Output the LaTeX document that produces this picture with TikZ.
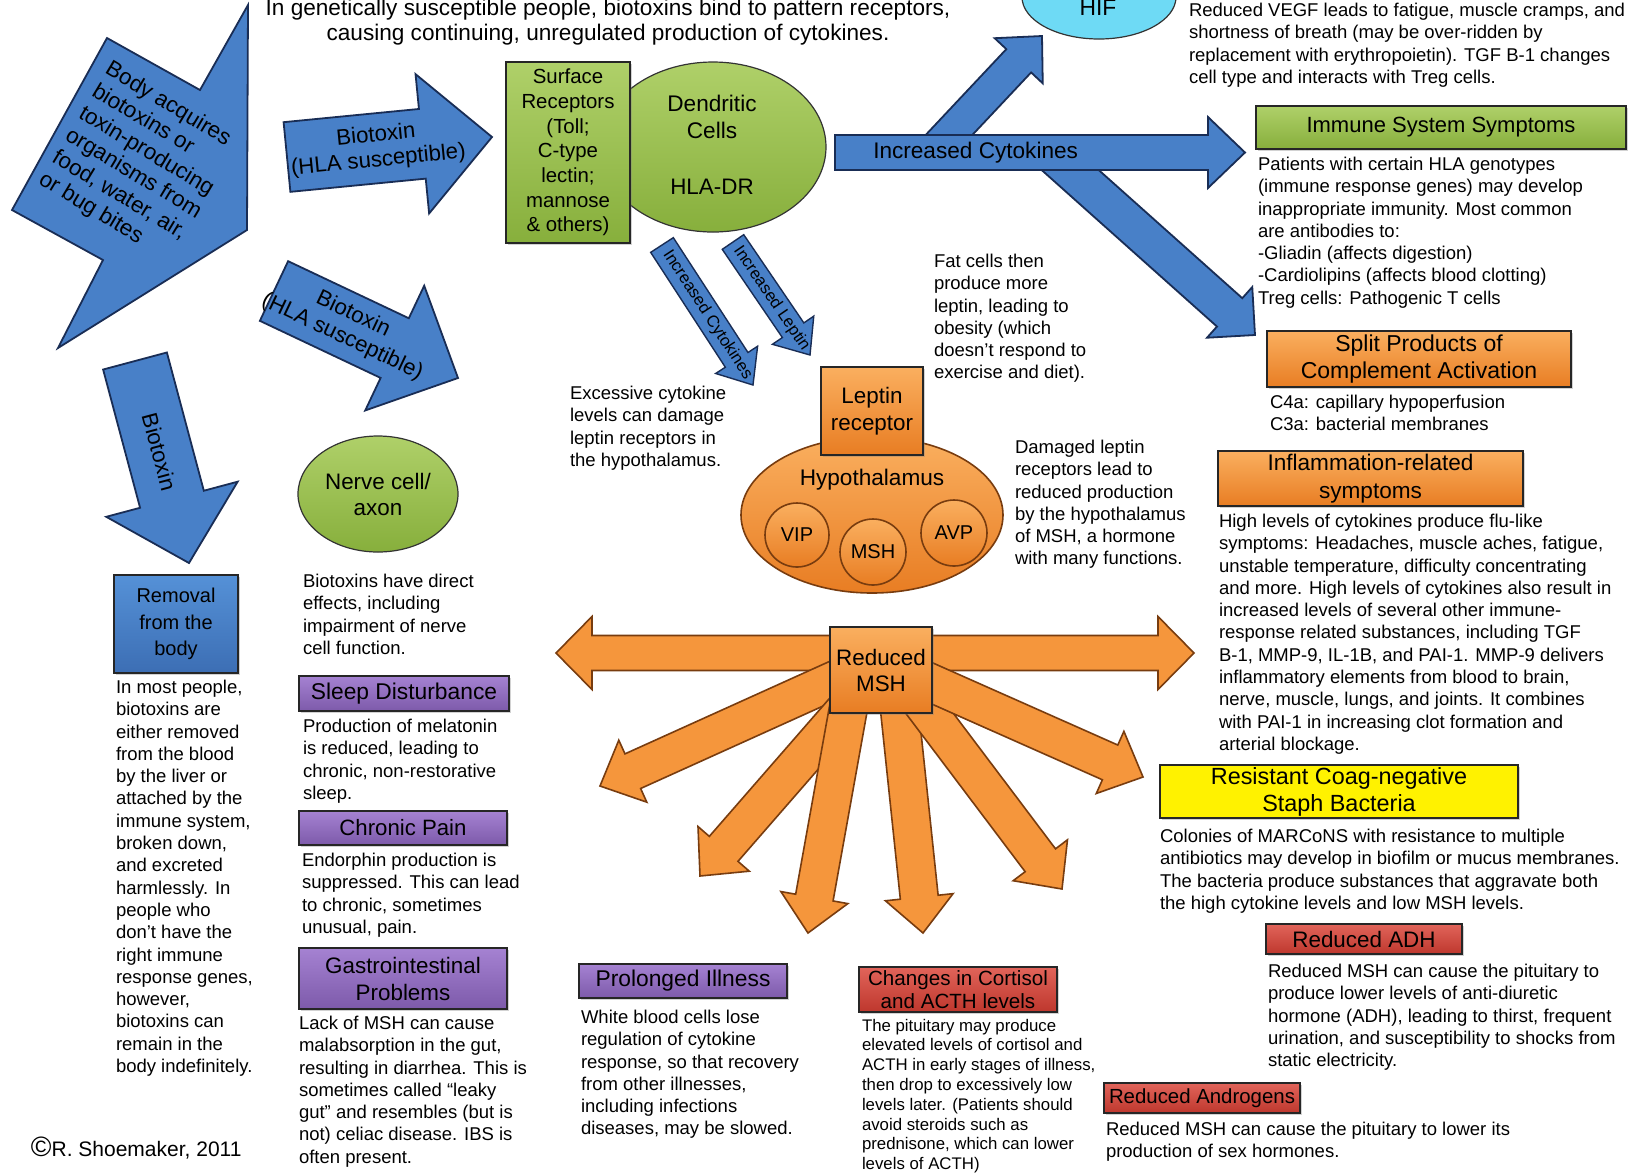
\documentclass[tikz,border=0pt]{standalone}
\usepackage{fontspec}
\setmainfont{Liberation Sans}
\usetikzlibrary{calc,shapes.geometric,shadows}

\definecolor{blueA}{RGB}{72,128,200}
\definecolor{navy}{RGB}{25,45,85}
\definecolor{orangeA}{RGB}{245,150,60}
\definecolor{orangeT}{RGB}{250,175,95}
\definecolor{orangeB}{RGB}{232,125,35}
\definecolor{obrown}{RGB}{120,60,15}
\definecolor{greenT}{RGB}{175,208,105}
\definecolor{greenB}{RGB}{135,175,60}
\definecolor{purpleT}{RGB}{165,130,210}
\definecolor{purpleB}{RGB}{125,90,170}
\definecolor{redT}{RGB}{225,100,90}
\definecolor{redB}{RGB}{190,55,45}
\definecolor{cyanA}{RGB}{110,218,245}
\definecolor{blueT}{RGB}{85,145,215}
\definecolor{blueB}{RGB}{60,110,180}

\newcommand{\bodyfnt}{\fontsize{9.25}{11.15}\selectfont}

% #1 name, #2 style, #3 tail, #4 tip, #5 half shaft, #6 half head, #7 head length
\newcommand{\blockarrow}[7]{%
  \coordinate (#1-t) at #3;
  \coordinate (#1-h) at #4;
  \coordinate (#1-b) at ($(#1-h)!#7!(#1-t)$);
  \draw[#2] ($(#1-t)!#5!90:(#1-h)$) -- ($(#1-b)!#5!90:(#1-h)$) -- ($(#1-b)!#6!90:(#1-h)$) -- (#1-h) -- ($(#1-b)!#6!-90:(#1-h)$) -- ($(#1-b)!#5!-90:(#1-h)$) -- ($(#1-t)!#5!-90:(#1-h)$) -- cycle;}

% #1 name, #2 style, #3 x1, #4 y1, #5 x2, #6 y2, #7 text
\newcommand{\boxnode}[7]{%
  \node[#2, minimum width={(#5-#3)*0.5pt}, minimum height={(#6-#4)*0.5pt}] (#1) at ({(#3+#5)/2},{(#4+#6)/2}) {#7};}

\begin{document}
\begin{tikzpicture}[x=0.5pt,y=-0.5pt,
  every node/.style={inner sep=0pt, outer sep=0pt},
  bluearrow/.style={draw=navy, line width=0.9pt, fill=blueA, line join=miter},
  orangearrow/.style={draw=obrown, line width=0.8pt, fill=orangeA, line join=miter},
  arrowtext/.style={font=\fontsize{11.1}{12.5}\selectfont, align=center, text=black},
  smallarrowtext/.style={font=\fontsize{8.3}{9}\selectfont, text=black},
  body/.style={font=\bodyfnt, align=left, anchor=north west},
  tbox/.style={draw=black!85, line width=0.6pt, align=center, drop shadow={opacity=0.35, shadow xshift=1pt, shadow yshift=-1.2pt}},
  greenbox/.style={tbox, top color=greenT, bottom color=greenB},
  orangebox/.style={tbox, top color=orangeT, bottom color=orangeB},
  purplebox/.style={tbox, top color=purpleT, bottom color=purpleB},
  redbox/.style={tbox, top color=redT, bottom color=redB},
  yellowbox/.style={tbox, fill=yellow},
  bluebox/.style={tbox, top color=blueT, bottom color=blueB},
  orangeshape/.style={draw=obrown, line width=0.8pt, top color=orangeT, bottom color=orangeB},
]
\useasboundingbox (0,0) rectangle (1630,1175);
\fill[white] (0,0) rectangle (1630,1175);
\clip (0,0) rectangle (1630,1175);

% ---------- top text ----------
\node[align=center, font=\fontsize{11.3}{12.5}\selectfont] (toptext) at (608,22)
  {In genetically susceptible people, biotoxins bind to pattern receptors,\\causing continuing, unregulated production of cytokines.};

% ---------- cytokine arrows (top right) ----------
\blockarrow{hifa}{bluearrow}{(933,152)}{(1042,36)}{8.5pt}{16.5pt}{17pt}
\blockarrow{diag}{bluearrow}{(1050,152)}{(1255,335)}{9.5pt}{17pt}{17pt}
\blockarrow{ic}{bluearrow}{(835,152.5)}{(1245,152.5)}{8.75pt}{17.75pt}{18.5pt}
\path (ic-t) -- (ic-h) node[pos=0.343, font=\fontsize{11.3}{13}\selectfont] (iclabel) {Increased Cytokines};

\node[ellipse, draw=black!80, line width=0.6pt, fill=cyanA, minimum width=77pt, minimum height=42pt] (hif) at (1099,-3) {};
\node[font=\fontsize{11.4}{13}\selectfont] (hiflabel) at (1098,8) {HIF};

\node[body] (hiftext) at (1189,3) {Reduced VEGF leads to fatigue, muscle cramps, and\\shortness of breath (may be over-ridden by\\replacement with erythropoietin).  TGF B-1 changes\\cell type and interacts with Treg cells.};

% ---------- dendritic cells ----------
\node[ellipse, draw=black!80, line width=0.6pt, top color=greenT, bottom color=greenB, minimum width=113pt, minimum height=85pt] (dc) at (713,147) {};
\node[align=center, font=\fontsize{11.3}{13.5}\selectfont] (dclabel) at (712,117) {Dendritic\\Cells};
\node[font=\fontsize{11.2}{13}\selectfont] (hladr) at (712,187) {HLA-DR};
\boxnode{sr}{greenbox, font=\fontsize{10.2}{12.35}\selectfont}{506}{62}{630}{243}{Surface\\Receptors\\(Toll;\\C-type\\lectin;\\mannose\\\& others)}

% ---------- big left arrow ----------
\draw[bluearrow] (248,5) -- (200,90) -- (107,38) -- (12,210) -- (103,260) -- (58,348) -- (247,230) -- cycle;
\node[rotate=-31, align=left, font=\fontsize{11.2}{12.9}\selectfont] (bodyacq) at (140,163)
  {Body acquires\\biotoxins or\\toxin-producing\\organisms from\\food, water, air,\\or bug bites};

% ---------- biotoxin arrows ----------
\blockarrow{a2}{bluearrow}{(287,157)}{(492,137)}{17.5pt}{35pt}{35pt}
\path (a2-t) -- (a2-h) node[pos=0.44, sloped, arrowtext] (a2l) {Biotoxin\\(HLA susceptible)};
\blockarrow{a3}{bluearrow}{(274,291)}{(458,378)}{16.5pt}{34.5pt}{35pt}
\path (a3-t) -- (a3-h) node[pos=0.4, sloped, arrowtext] (a3l) {Biotoxin\\(HLA susceptible)};
\blockarrow{a4}{bluearrow}{(135,361)}{(189,563)}{16.5pt}{34pt}{33pt}
\path (a4-t) -- (a4-h) node[pos=0.45, sloped, arrowtext] (a4l) {Biotoxin};

% ---------- small arrows ----------
\blockarrow{sic}{bluearrow, line width=0.7pt}{(662,245)}{(753,385)}{6.75pt}{12.5pt}{15pt}
\path (sic-t) -- (sic-h) node[pos=0.5, sloped, smallarrowtext] (sicl) {Increased Cytokines};
\blockarrow{slep}{bluearrow, line width=0.7pt}{(733,242)}{(810,355)}{6.5pt}{12.5pt}{15pt}
\path (slep-t) -- (slep-h) node[pos=0.5, sloped, smallarrowtext] (slepl) {Increased Leptin};

% ---------- hypothalamus ----------
\node[ellipse, orangeshape, minimum width=131pt, minimum height=78pt] (hypo) at (872,515) {};
\node[font=\fontsize{11.3}{13}\selectfont] (hypolabel) at (872,480) {Hypothalamus};
\node[circle, orangeshape, minimum size=32pt, font=\fontsize{10}{12}\selectfont] (vip) at (797,535) {VIP};
\node[circle, orangeshape, minimum size=33pt, font=\fontsize{10}{12}\selectfont] (msh) at (873,552) {MSH};
\node[circle, orangeshape, minimum size=33pt, font=\fontsize{10}{12}\selectfont] (avp) at (954,533) {AVP};
\boxnode{lep}{orangebox, font=\fontsize{11.2}{13.5}\selectfont}{821}{367}{923}{455}{Leptin\\receptor}

% ---------- reduced MSH fan ----------
\draw[orangearrow] (556,653) -- (592,616.5) -- (592,635.5) -- (1158,635.5) -- (1158,616.5) -- (1194,653) -- (1158,689.5) -- (1158,670.5) -- (592,670.5) -- (592,689.5) -- cycle;
\blockarrow{f1}{orangearrow}{(850,673)}{(600,786)}{9.5pt}{17pt}{18pt}
\blockarrow{f2}{orangearrow}{(862,690)}{(700,876)}{9.5pt}{17pt}{18pt}
\blockarrow{f3}{orangearrow}{(849,705)}{(808,933)}{9.5pt}{17pt}{18pt}
\blockarrow{f4}{orangearrow}{(899,705)}{(923,933)}{9.5pt}{17pt}{18pt}
\blockarrow{f5}{orangearrow}{(912,690)}{(1062,889)}{9.5pt}{17pt}{18pt}
\blockarrow{f6}{orangearrow}{(920,678)}{(1143,777)}{9.5pt}{17pt}{18pt}
\boxnode{rmsh}{orangebox, font=\fontsize{11.2}{13}\selectfont}{830}{627}{932}{713}{Reduced\\MSH}

% ---------- middle texts ----------
\node[body] (exct) at (570,386) {Excessive cytokine\\levels can damage\\leptin receptors in\\the hypothalamus.};
\node[body] (fatt) at (934,254) {Fat cells then\\produce more\\leptin, leading to\\obesity (which\\doesn’t respond to\\exercise and diet).};
\node[body] (damt) at (1015,440) {Damaged leptin\\receptors lead to\\reduced production\\by the hypothalamus\\of MSH, a hormone\\with many functions.};

% ---------- right column ----------
\boxnode{iss}{greenbox, font=\fontsize{11}{13}\selectfont}{1256}{106}{1626}{149}{Immune System Symptoms}
\node[body] (isst) at (1258,157) {Patients with certain HLA genotypes\\(immune response genes) may develop\\inappropriate immunity.  Most common\\are antibodies to:\\-Gliadin (affects digestion)\\-Cardiolipins (affects blood clotting)\\Treg cells:  Pathogenic T cells};

\boxnode{spl}{orangebox, font=\fontsize{11.5}{13.5}\selectfont}{1267}{331}{1571}{387}{Split Products of\\Complement Activation}
\node[body] (splt) at (1270,395) {C4a:  capillary hypoperfusion\\C3a:  bacterial membranes};

\boxnode{infl}{orangebox, font=\fontsize{11.3}{14}\selectfont}{1218}{451}{1523}{506}{Inflammation-related\\symptoms}
\node[body] (inflt) at (1219,514) {High levels of cytokines produce flu-like\\symptoms: Headaches, muscle aches, fatigue,\\unstable temperature, difficulty concentrating\\and more.  High levels of cytokines also result in\\increased levels of several other immune-\\response related substances, including TGF\\B-1, MMP-9, IL-1B, and PAI-1.  MMP-9 delivers\\inflammatory elements from blood to brain,\\nerve, muscle, lungs, and joints.  It combines\\with PAI-1 in increasing clot formation and\\arterial blockage.};

\boxnode{coag}{yellowbox, font=\fontsize{11.7}{13.5}\selectfont}{1160}{765}{1518}{818}{Resistant Coag-negative\\Staph Bacteria}
\node[body] (coagt) at (1160,829) {Colonies of MARCoNS with resistance to multiple\\antibiotics may develop in biofilm or mucus membranes.\\The bacteria produce substances that aggravate both\\the high cytokine levels and low MSH levels.};

\boxnode{adh}{redbox, font=\fontsize{11.2}{13}\selectfont}{1266}{924}{1462}{954}{Reduced ADH}
\node[body] (adht) at (1268,964) {Reduced MSH can cause the pituitary to\\produce lower levels of anti-diuretic\\hormone (ADH), leading to thirst, frequent\\urination, and susceptibility to shocks from\\static electricity.};

\boxnode{andr}{redbox, font=\fontsize{10.2}{12}\selectfont}{1104}{1083}{1300}{1113}{Reduced Androgens}
\node[body] (andrt) at (1106,1122) {Reduced MSH can cause the pituitary to lower its\\production of sex hormones.};

% ---------- bottom middle ----------
\boxnode{cort}{redbox, font=\fontsize{10.3}{11.5}\selectfont}{859}{967}{1057}{1012}{Changes in Cortisol\\and ACTH levels}
\node[body, font=\fontsize{8.4}{9.9}\selectfont] (cortt) at (862,1019) {The pituitary may produce\\elevated levels of cortisol and\\ACTH in early stages of illness,\\then drop to excessively low\\levels later.  (Patients should\\avoid steroids such as\\prednisone, which can lower\\levels of ACTH)};

\boxnode{prol}{purplebox, font=\fontsize{11.4}{13}\selectfont}{579}{964}{787}{998}{Prolonged Illness}
\node[body] (prolt) at (581,1010) {White blood cells lose\\regulation of cytokine\\response, so that recovery\\from other illnesses,\\including infections\\diseases, may be slowed.};

% ---------- left-middle column ----------
\node[ellipse, draw=black!80, line width=0.6pt, top color=greenT, bottom color=greenB, minimum width=80pt, minimum height=58pt, align=center, font=\fontsize{11.2}{13}\selectfont] (nerve) at (378,494) {Nerve cell/\\axon};
\node[body] (nervt) at (303,574) {Biotoxins have direct\\effects, including\\impairment of nerve\\cell function.};

\boxnode{sleep}{purplebox, font=\fontsize{11.4}{13}\selectfont}{299}{676}{509}{711}{Sleep Disturbance}
\node[body] (sleept) at (303,719) {Production of melatonin\\is reduced, leading to\\chronic, non-restorative\\sleep.};

\boxnode{pain}{purplebox, font=\fontsize{11.1}{13}\selectfont}{299}{811}{507}{845}{Chronic Pain}
\node[body] (paint) at (302,853) {Endorphin production is\\suppressed.  This can lead\\to chronic, sometimes\\unusual, pain.};

\boxnode{gi}{purplebox, font=\fontsize{11.2}{13.5}\selectfont}{299}{948}{507}{1009}{Gastrointestinal\\Problems}
\node[body] (git) at (299,1016) {Lack of MSH can cause\\malabsorption in the gut,\\resulting in diarrhea.  This is\\sometimes called “leaky\\gut” and resembles (but is\\not) celiac disease.  IBS is\\often present.};

% ---------- left column ----------
\boxnode{rem}{bluebox, font=\fontsize{10}{13.2}\selectfont}{114}{575}{238}{673}{Removal\\from the\\body}
\node[body] (remt) at (116,680) {In most people,\\biotoxins are\\either removed\\from the blood\\by the liver or\\attached by the\\immune system,\\broken down,\\and excreted\\harmlessly.  In\\people who\\don't have the\\right immune\\response genes,\\however,\\biotoxins can\\remain in the\\body indefinitely.};

\node[anchor=west, font=\fontsize{10.5}{12}\selectfont] (copyr) at (31,1148) {{\fontsize{14}{14}\selectfont\textcopyright}R. Shoemaker, 2011};
\end{tikzpicture}
\end{document}
